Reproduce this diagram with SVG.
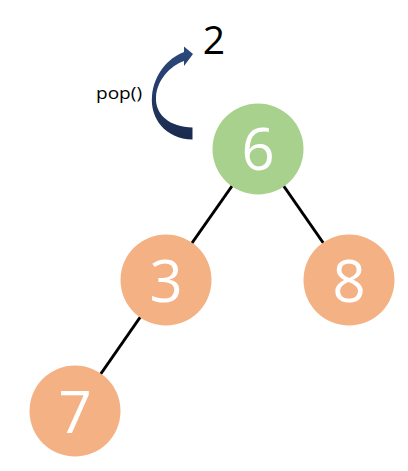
<svg xmlns="http://www.w3.org/2000/svg" width="408" height="471" viewBox="0 0 408 471">
<style>
.edge{stroke:#000;stroke-width:3;fill:none}
.num{font-family:"Open Sans","DejaVu Sans",sans-serif;fill:#fff;font-size:58px;text-anchor:middle}
.green{fill:#a9d18e}
.orange{fill:#f4b183}
.lbl{font-family:"Open Sans","DejaVu Sans",sans-serif;fill:#000}
</style>
<defs>
<linearGradient id="ag" x1="0" y1="0" x2="0" y2="1">
<stop offset="0" stop-color="#2c4a7e"/>
<stop offset="1" stop-color="#1a2a4e"/>
</linearGradient>
</defs>
<rect width="408" height="471" fill="#fff"/>
<g id="connectors">
<line class="edge" x1="258" y1="149" x2="166" y2="280"/>
<line class="edge" x1="258" y1="149" x2="349" y2="280"/>
<line class="edge" x1="166" y1="280" x2="75" y2="411"/>
</g>
<g id="pop-arrow">
<path fill="url(#ag)" d="M 192.5 139.5 C 165 139 150 118 152 96 C 154 74 168 58 184 52 L 184 46.5 L 193 54 L 184 66 L 184 61 C 170 66 157 80 156 97 C 155 115 170 127 192.5 127.5 Z"/>
<text class="lbl" x="96" y="99" font-size="17" textLength="46" lengthAdjust="spacingAndGlyphs">pop()</text>
<text class="lbl" x="214" y="54" font-size="39" text-anchor="middle">2</text>
</g>
<g id="node-6">
<circle class="green" cx="258" cy="149" r="45.5"/>
<text class="num" x="258" y="170">6</text>
</g>
<g id="node-3">
<circle class="orange" cx="166" cy="280" r="45.5"/>
<text class="num" x="166" y="302">3</text>
</g>
<g id="node-8">
<circle class="orange" cx="349" cy="280" r="45.5"/>
<text class="num" x="349" y="302">8</text>
</g>
<g id="node-7">
<circle class="orange" cx="75" cy="411" r="45.5"/>
<text class="num" x="75" y="433">7</text>
</g>
</svg>
